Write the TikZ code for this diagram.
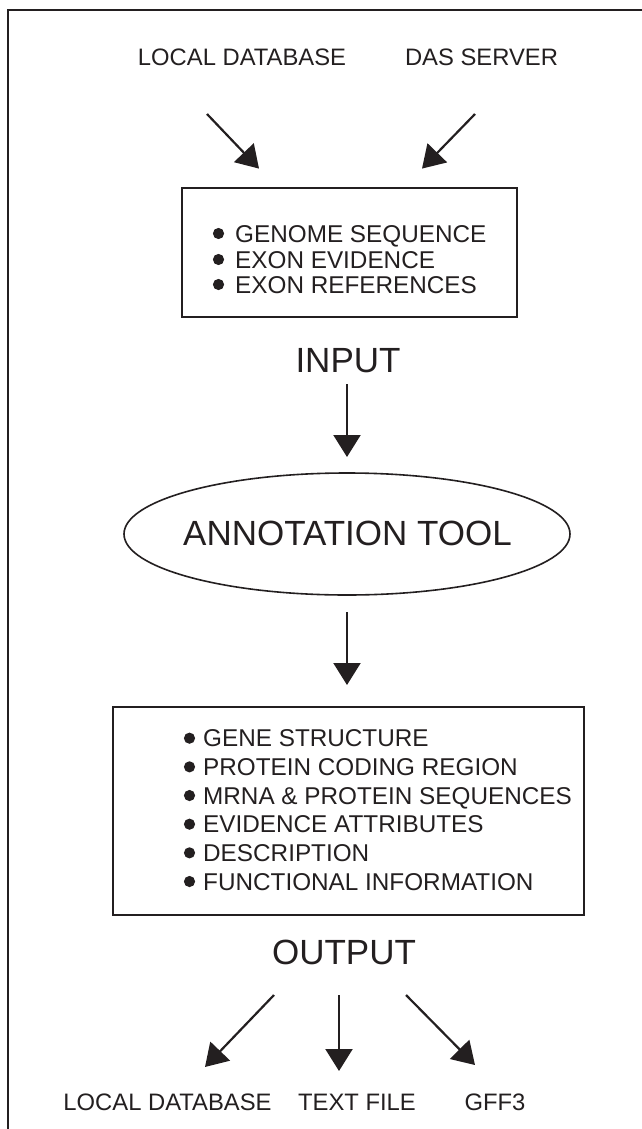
\documentclass[tikz,border=0pt]{standalone}
\usepackage{fontspec}
\setmainfont{Liberation Sans}
\usetikzlibrary{shapes.geometric,arrows.meta}
\definecolor{ink}{HTML}{231F20}
\tikzset{
  frameline/.style={line width=1.8pt, draw=ink},
  arr/.style={line width=2.2pt, draw=ink, -{Triangle[length=22pt,width=27pt]}},
  boxstyle/.style={draw=ink, line width=2pt, rectangle, inner sep=0pt},
  toolstyle/.style={draw=ink, line width=1.6pt, ellipse, inner sep=0pt,
    minimum width=446pt, minimum height=122pt},
  lbl/.style={text=ink, inner sep=0pt, anchor=base, font=\fontsize{23.8}{24}\selectfont},
  big/.style={text=ink, inner sep=0pt, anchor=base, font=\fontsize{35}{35}\selectfont},
  item/.style={text=ink, inner sep=0pt, anchor=base west, font=\fontsize{24.3}{24}\selectfont},
  dot/.style={fill=ink}
}
\begin{document}
\begin{tikzpicture}[x=1pt,y=-1pt]
\useasboundingbox (0,0) rectangle (642,1129);
% frame
\draw[frameline] (8,1135) -- (8,9.7) -- (648,9.7);

% top labels
\node[lbl] (srcdb) at (242,66) {LOCAL DATABASE};
\node[lbl] (srcdas) at (481.5,66) {DAS SERVER};

% input box
\node[boxstyle, minimum width=335pt, minimum height=129pt] (inbox) at (349.5,252.5) {};
\fill[dot] (218.5,233.5) circle (5.6pt);
\fill[dot] (218.5,259.5) circle (5.6pt);
\fill[dot] (218.5,284.5) circle (5.6pt);
\node[item] (in1) at (235,242) {GENOME SEQUENCE};
\node[item] (in2) at (235,268) {EXON EVIDENCE};
\node[item] (in3) at (235,293) {EXON REFERENCES};

\node[big] (inlbl) at (348,372) {INPUT};

% annotation tool
\node[toolstyle] (tool) at (347,534) {};
\node[big] (tooltext) at (347.5,545) {ANNOTATION TOOL};

% output box
\node[boxstyle, minimum width=471pt, minimum height=208pt] (outbox) at (348.5,811) {};
\foreach \i/\t in {0/GENE STRUCTURE,1/PROTEIN CODING REGION,2/MRNA \& PROTEIN SEQUENCES,3/EVIDENCE ATTRIBUTES,4/DESCRIPTION,5/FUNCTIONAL INFORMATION}{
  \fill[dot] (189.5,746.7+\i*28.66-8.5) circle (5.6pt);
  \node[item] (out\i) at (203,746.7+\i*28.66) {\t};
}

\node[big] (outlbl) at (344,964) {OUTPUT};

% bottom labels
\node[lbl] (dstdb) at (167.5,1110) {LOCAL DATABASE};
\node[lbl] (dsttxt) at (357,1110) {TEXT FILE};
\node[lbl] (dstgff) at (495,1110) {GFF3};

% arrow end points
\coordinate (a1s) at (207,114);   \coordinate (a1e) at (259,168.6);
\coordinate (a2s) at (475,114);   \coordinate (a2e) at (422,168.6);
\coordinate (a3s) at (347,384);   \coordinate (a3e) at (347,457);
\coordinate (a4s) at (347,612);   \coordinate (a4e) at (347,685);
\coordinate (a5s) at (274,995);   \coordinate (a5e) at (205,1067);
\coordinate (a6s) at (339,995);   \coordinate (a6e) at (339,1071);
\coordinate (a7s) at (406,995);   \coordinate (a7e) at (475,1065);

\draw[arr] (a1s) -- (a1e);
\draw[arr] (a2s) -- (a2e);
\draw[arr] (a3s) -- (a3e);
\draw[arr] (a4s) -- (a4e);
\draw[arr] (a5s) -- (a5e);
\draw[arr] (a6s) -- (a6e);
\draw[arr] (a7s) -- (a7e);
\end{tikzpicture}
\end{document}
